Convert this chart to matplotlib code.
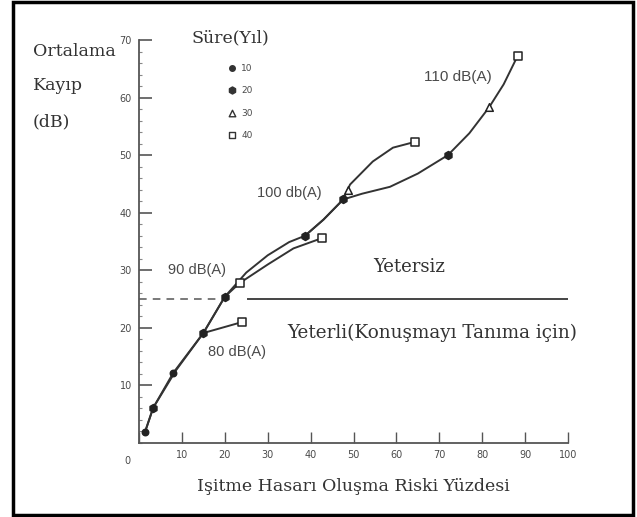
import numpy as np
import matplotlib
matplotlib.use("Agg")
import matplotlib.pyplot as plt
from matplotlib.patches import Rectangle

# curves (x = risk %, y = average loss dB)
x80 = [1.4, 3.3, 8.0, 15.0, 24.0]
y80 = [1.9, 6.1, 12.2, 19.1, 21.0]

x90 = [1.4, 3.3, 8.6, 15.0, 20.0, 23.5, 30.0, 36.0, 42.7]
y90 = [1.9, 6.1, 12.6, 19.1, 25.4, 27.8, 31.0, 33.8, 35.6]

x100 = [15.0, 20.0, 25.0, 30.0, 35.0, 38.7, 43.0, 47.6, 49.2, 54.5, 59.2, 64.3]
y100 = [19.1, 25.4, 29.6, 32.6, 34.9, 36.0, 38.8, 42.3, 44.9, 48.9, 51.3, 52.3]

x110 = [38.7, 43.0, 47.6, 52.0, 58.5, 65.0, 72.0, 77.0, 81.6, 85.0, 88.3]
y110 = [36.0, 38.8, 42.3, 43.3, 44.5, 46.8, 50.0, 53.8, 58.3, 62.3, 67.3]

# markers by duration (Süre, years)
m10_x = [1.4, 8.0]
m10_y = [1.9, 12.2]
m20_x = [3.3, 15.0, 20.0, 38.7, 47.6, 72.0]
m20_y = [6.1, 19.1, 25.4, 36.0, 42.3, 50.0]
m30_x = [48.7, 81.6]
m30_y = [44.0, 58.3]
m40_x = [24.0, 23.5, 42.7, 64.3, 88.3]
m40_y = [21.0, 27.8, 35.6, 52.3, 67.3]

durations = ["10", "20", "30", "40"]
threshold = 25

W, H = 637, 517
fig = plt.figure(figsize=(W / 100, H / 100), dpi=100)
fig.patch.set_facecolor("white")

ax = fig.add_axes([139 / W, (H - 443) / H, (568 - 139) / W, (443 - 40) / H])
ax.set_xlim(0, 100)
ax.set_ylim(0, 70)

line_c = "#333333"
txt_c = "#4a4a4a"

for xs, ys in [(x80, y80), (x90, y90), (x100, y100), (x110, y110)]:
    ax.plot(xs, ys, color=line_c, lw=1.4, zorder=2)

ax.scatter(m10_x, m10_y, s=22, marker="o", color="#222", zorder=3)
ax.scatter(m20_x, m20_y, s=34, marker="h", color="#222", zorder=3)
ax.scatter(m30_x, m30_y, s=30, marker="^", facecolor="white", edgecolor="#222", lw=1.1, zorder=3)
ax.scatter(m40_x, m40_y, s=30, marker="s", facecolor="white", edgecolor="#222", lw=1.1, zorder=3)

# threshold line: broken left part, solid right part
ax.plot([0, 18.5], [threshold, threshold], color="#555", lw=1.1, ls=(0, (5, 4)))
ax.plot([25.3, 100], [threshold, threshold], color="#444", lw=1.4)

for s in ["top", "right"]:
    ax.spines[s].set_visible(False)
for s in ["left", "bottom"]:
    ax.spines[s].set_color("#555")
    ax.spines[s].set_linewidth(1.3)

ax.set_xticks(np.arange(0, 101, 10))
ax.set_xticklabels([""] + [str(v) for v in range(10, 101, 10)])
ax.set_yticks(np.arange(10, 71, 10))
ax.set_yticks(np.arange(0, 70, 2), minor=True)
ax.tick_params(axis="y", which="major", direction="in", length=9, width=1.2, color="#555",
               labelsize=7, labelcolor=txt_c, pad=5)
ax.tick_params(axis="y", which="minor", direction="in", length=2.5, width=0.8, color="#888")
ax.tick_params(axis="x", which="major", direction="in", length=8, width=1.0, color="#555",
               labelsize=7, labelcolor=txt_c, pad=5)
ax.text(-2, -2.2, "0", fontsize=7, color=txt_c, ha="right", va="top")

serif = "DejaVu Serif"
sans = "Liberation Sans"

ax.set_xlabel("Işitme Hasarı Oluşma Riski Yüzdesi", family=serif, fontsize=12.5,
              color="#333", labelpad=13)

fig.text(33 / W, 1 - 52 / H, "Ortalama", family=serif, fontsize=12.5, color="#333", va="center")
fig.text(33 / W, 1 - 86 / H, "Kayıp", family=serif, fontsize=12.5, color="#333", va="center")
fig.text(33 / W, 1 - 122 / H, "(dB)", family=serif, fontsize=12.5, color="#333", va="center")

# legend
fig.text(192 / W, 1 - 38 / H, "Süre(Yıl)", family=serif, fontsize=12.5, color="#333", va="center")
leg_y = [68, 90, 113, 135]
leg_m = [dict(marker="o", s=16, color="#333"),
         dict(marker="h", s=26, color="#333"),
         dict(marker="^", s=22, facecolor="white", edgecolor="#333", lw=1.0),
         dict(marker="s", s=22, facecolor="white", edgecolor="#333", lw=1.0)]
for lab, py, mk in zip(durations, leg_y, leg_m):
    xd = (232 - 139) / 4.29
    yd = (443 - py) / (403 / 70)
    ax.scatter([xd], [yd], clip_on=False, zorder=4, **mk)
    ax.text(xd + 2.2, yd, lab, fontsize=6.5, color=txt_c, va="center")

ax.text(66.5, 63.5, "110 dB(A)", family=sans, fontsize=11, color=txt_c, va="center")
ax.text(27.5, 43.5, "100 db(A)", family=sans, fontsize=10.5, color=txt_c, va="center")
ax.text(6.8, 30.1, "90 dB(A)", family=sans, fontsize=10.5, color=txt_c, va="center")
ax.text(16.0, 15.8, "80 dB(A)", family=sans, fontsize=10.5, color=txt_c, va="center")
ax.text(54.5, 30.6, "Yetersiz", family=serif, fontsize=13, color="#333", va="center")
ax.text(34.5, 19.1, "Yeterli(Konuşmayı Tanıma için)", family=serif, fontsize=13.2,
        color="#333", va="center")

fig.add_artist(Rectangle((13 / W, 2 / H), (633 - 13) / W, (515 - 2) / H,
                         transform=fig.transFigure, fill=False, lw=2.5, ec="black"))

fig.savefig("out.png", dpi=100, facecolor="white")
